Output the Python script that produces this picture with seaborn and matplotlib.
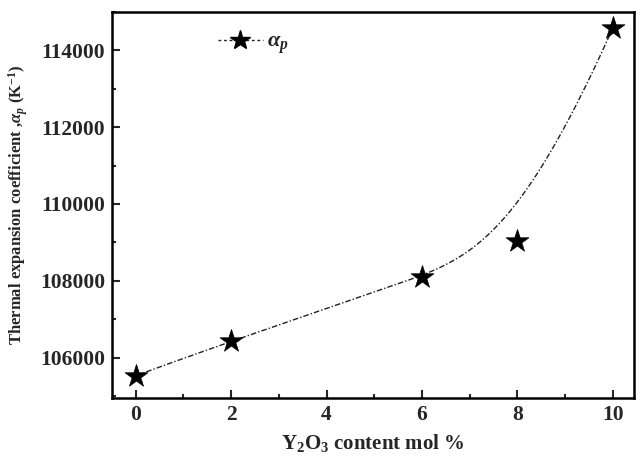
import numpy as np
import pandas as pd
import matplotlib
matplotlib.use("Agg")
import matplotlib.pyplot as plt
from matplotlib.ticker import MultipleLocator
import seaborn as sns

# data
y2o3_mol = [0, 2, 6, 8, 10]
alpha_p = [105530, 106440, 108110, 109030, 114570]


def bspline_curve(xs, ys, n=300, k=3):
    # clamped cubic B-spline using the points as control points (Origin-style)
    pts = np.column_stack([xs, ys]).astype(float)
    m = len(pts)
    inner = np.linspace(0, 1, m - k + 1)[1:-1]
    knots = np.concatenate([np.zeros(k + 1), inner, np.ones(k + 1)])
    u = np.linspace(0, 1, n)
    u[-1] -= 1e-9
    N = np.zeros((n, len(knots) - 1))
    for i in range(len(knots) - 1):
        N[:, i] = (u >= knots[i]) & (u < knots[i + 1])
    for d in range(1, k + 1):
        Nn = np.zeros((n, len(knots) - d - 1))
        for i in range(len(knots) - d - 1):
            a = knots[i + d] - knots[i]
            b = knots[i + d + 1] - knots[i + 1]
            t1 = (u - knots[i]) / a * N[:, i] if a > 0 else 0
            t2 = (knots[i + d + 1] - u) / b * N[:, i + 1] if b > 0 else 0
            Nn[:, i] = t1 + t2
        N = Nn
    c = N @ pts
    return c[:, 0], c[:, 1]


cx, cy = bspline_curve(y2o3_mol, alpha_p)
df = pd.DataFrame({"x": y2o3_mol, "y": alpha_p})
curve = pd.DataFrame({"x": cx, "y": cy})

sns.set_style("ticks")
plt.rcParams["font.family"] = ["Liberation Serif", "DejaVu Serif"]
plt.rcParams["font.weight"] = "bold"
plt.rcParams["mathtext.fontset"] = "custom"
plt.rcParams["mathtext.rm"] = "Liberation Serif"
plt.rcParams["mathtext.it"] = "Liberation Serif:italic"
plt.rcParams["mathtext.bf"] = "Liberation Serif:bold"

fig = plt.figure(figsize=(6.36, 4.59), dpi=100)
ax = fig.add_axes([0.176, 0.133, 0.821, 0.841])

sns.lineplot(data=curve, x="x", y="y", ax=ax, sort=False, color="#222222",
             lw=1.0, dashes=False, linestyle=(0, (4, 1.5, 1, 1.5)), zorder=2)
sns.scatterplot(data=df, x="x", y="y", ax=ax, marker="*", s=300,
                color="black", edgecolor="black", linewidth=0.5, zorder=3)

# legend handle
ax.plot([], [], color="#222222", lw=1.0, linestyle=(0, (2, 2)), marker="*",
        markersize=15, markerfacecolor="black", markeredgecolor="black",
        label=r"$\alpha_p$")
ax.legend(loc="upper left", bbox_to_anchor=(0.165, 1.0), frameon=False,
          fontsize=16, handlelength=2.0, handletextpad=0.2)

ax.set_xlim(-0.5, 10.45)
ax.set_ylim(104950, 115000)
ax.xaxis.set_major_locator(MultipleLocator(2))
ax.xaxis.set_minor_locator(MultipleLocator(1))
ax.yaxis.set_major_locator(MultipleLocator(2000))
ax.yaxis.set_minor_locator(MultipleLocator(1000))
ax.tick_params(which="both", direction="in", width=1.5, labelsize=15.5)
ax.tick_params(which="major", length=6, pad=5)
ax.tick_params(which="minor", length=3)
for lab in ax.get_xticklabels() + ax.get_yticklabels():
    lab.set_fontweight("bold")
for s in ax.spines.values():
    s.set_linewidth(1.8)
    s.set_color("black")

ax.set_xlabel(r"Y$_\mathbf{2}$O$_\mathbf{3}$ content mol %", fontsize=15,
              fontweight="bold", labelpad=5)
ax.set_ylabel(r"Thermal expansion coefficient ,$\alpha_p$ (K$^\mathbf{-1}$)",
              fontsize=12, fontweight="bold", labelpad=7)

fig.savefig("out.png", dpi=100)
